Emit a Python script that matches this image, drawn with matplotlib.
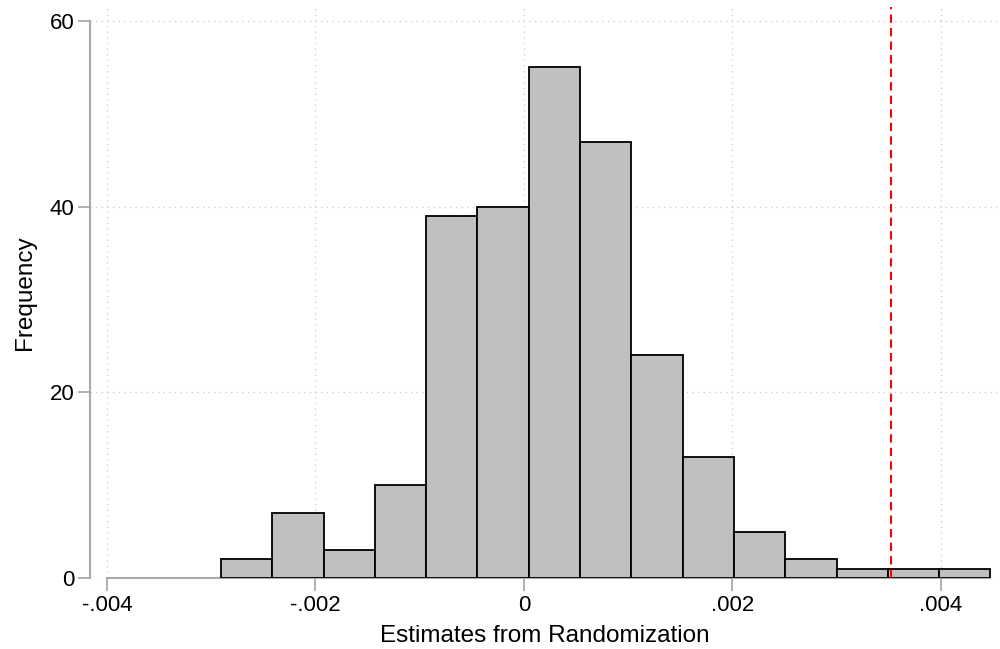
import numpy as np
import matplotlib
matplotlib.use("Agg")
import matplotlib.pyplot as plt

# histogram of randomization estimates (15 bins)
bin_start = -0.002906
bin_width = 0.000492
counts = [2, 7, 3, 10, 39, 40, 55, 47, 24, 13, 5, 2, 1, 1, 1]
actual_estimate = 0.00352

x_ticks = [-0.004, -0.002, 0, 0.002, 0.004]
x_ticklabels = ["-.004", "-.002", "0", ".002", ".004"]
y_ticks = [0, 20, 40, 60]
y_ticklabels = ["0", "20", "40", "60"]

plt.rcParams["font.family"] = ["Liberation Sans", "DejaVu Sans"]

edges = bin_start + bin_width * np.arange(len(counts) + 1)

fig = plt.figure(figsize=(10, 6.49), dpi=100)
ax = fig.add_axes([0.09, 0.1094, 0.91, 0.8798])

ax.bar(edges[:-1], counts, width=np.diff(edges), align="edge",
       color="#c0c0c0", edgecolor="black", linewidth=1.3, zorder=3)
ax.axvline(actual_estimate, color="red", linestyle=(0, (4, 2.5)),
           linewidth=1.5, zorder=4)

ax.set_xlim(-0.004163, 0.004566)
ax.set_ylim(0, 61.5)

ax.set_xticks(x_ticks)
ax.set_xticklabels(x_ticklabels)
ax.set_yticks(y_ticks)
ax.set_yticklabels(y_ticklabels)

ax.grid(True, color="#c8c8c8", linestyle=(0, (1, 3.5)), linewidth=0.9, zorder=0)

for side in ["top", "right"]:
    ax.spines[side].set_visible(False)
ax.spines["left"].set_bounds(0, 60)
ax.spines["bottom"].set_bounds(-0.004, edges[-1])
for side in ["left", "bottom"]:
    ax.spines[side].set_color("#aaaaaa")
    ax.spines[side].set_linewidth(1.5)
    ax.spines[side].set_zorder(2)

ax.tick_params(axis="both", colors="#aaaaaa", labelcolor="black",
               labelsize=16, width=1.3, length=9)
ax.tick_params(axis="y", pad=2)

ax.set_xlabel("Estimates from Randomization", fontsize=17.5, labelpad=6)
ax.set_ylabel("Frequency", fontsize=17.5, labelpad=10)

fig.savefig("out.png", dpi=100)
